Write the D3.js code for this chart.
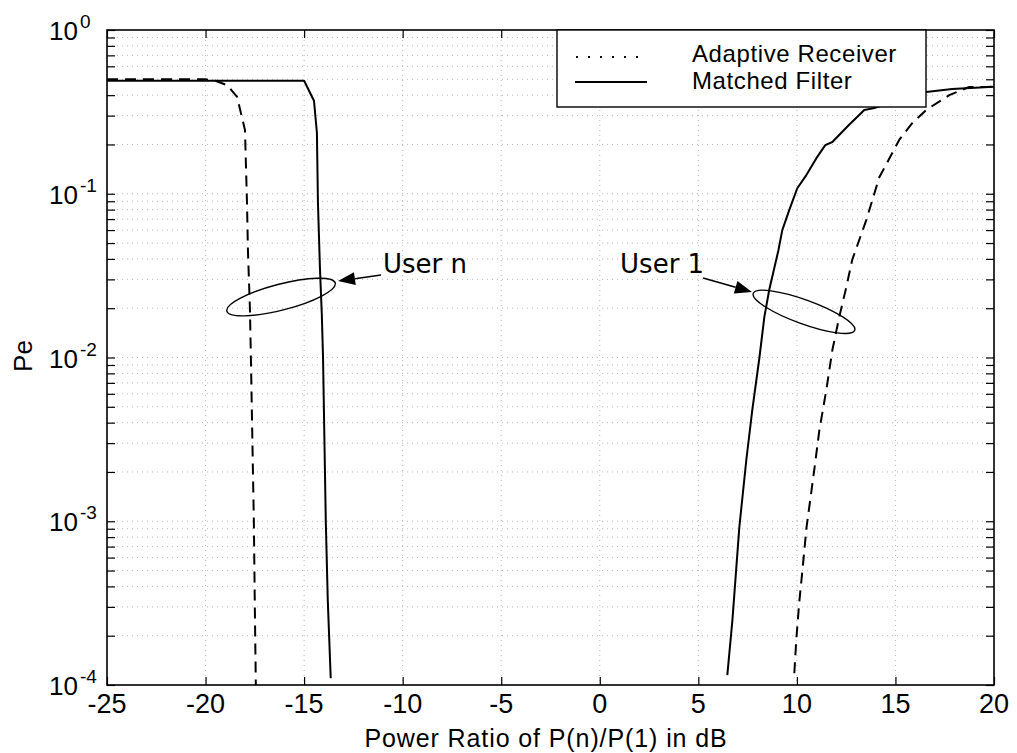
<!DOCTYPE html>
<html>
<head>
<meta charset="utf-8">
<script src="https://cdn.jsdelivr.net/npm/d3@7/dist/d3.min.js"></script>
<style>
  html, body { margin: 0; padding: 0; background: #fff; }
  svg { display: block; }
  text { font-family: "Liberation Sans", Arial, Helvetica, sans-serif; fill: #000; }
  .anno { font-family: "DejaVu Sans", "Noto Sans", sans-serif; }
</style>
</head>
<body>
<svg id="chart" width="1017" height="753"></svg>
<script>
// ---------------- data ----------------
const xTicks = [-25, -20, -15, -10, -5, 0, 5, 10, 15, 20];
const yDecades = [1, 0.1, 0.01, 0.001, 0.0001];
const yExponents = ["0", "-1", "-2", "-3", "-4"];

// User n, matched filter (solid)
const userNMatchedX = [-25, -15.0, -14.5, -14.35, -14.3, -14.2, -14.1, -14.04, -13.9, -13.8, -13.65];
const userNMatchedY = [0.49, 0.49, 0.37, 0.235, 0.09, 0.036, 0.018, 0.01, 0.001, 3.3e-4, 1.1e-4];

// User n, adaptive receiver (dashed)
const userNAdaptiveX = [-25, -20, -19.5, -18.9, -18.4, -18.0, -17.9, -17.85, -17.75, -17.7, -17.55, -17.5, -17.45];
const userNAdaptiveY = [0.5, 0.5, 0.49, 0.46, 0.39, 0.245, 0.09, 0.045, 0.02, 0.01, 0.001, 3e-4, 1e-4];

// User 1, matched filter (solid)
const user1MatchedX = [6.47, 6.73, 7.08, 7.44, 7.74, 8.10, 8.35, 8.60, 9.06, 9.26, 9.62, 10.02, 10.48, 10.99, 11.44, 11.80, 12.6, 13.42, 13.93, 15.2, 16.56, 17.88, 19.75, 20];
const user1MatchedY = [1.15e-4, 2.5e-4, 9.2e-4, 2.4e-3, 4.8e-3, 0.01, 0.0177, 0.026, 0.045, 0.06, 0.08, 0.108, 0.13, 0.165, 0.198, 0.207, 0.26, 0.325, 0.334, 0.374, 0.418, 0.436, 0.449, 0.45];

// User 1, adaptive receiver (dashed)
const user1AdaptiveX = [9.87, 9.97, 10.12, 10.28, 10.49, 10.88, 11.14, 11.49, 11.80, 12.15, 12.51, 12.81, 13.52, 14.18, 15.19, 15.85, 16.56, 17.73, 18.74, 19.6, 20];
const user1AdaptiveY = [1.18e-4, 1.9e-4, 3.2e-4, 5.0e-4, 9.2e-4, 2.05e-3, 3.6e-3, 6.3e-3, 0.0111, 0.0177, 0.027, 0.0396, 0.069, 0.126, 0.213, 0.27, 0.325, 0.40, 0.449, 0.449, 0.45];

const legendLabels = ["Adaptive Receiver", "Matched Filter"];
const xTitle = "Power Ratio of P(n)/P(1) in dB";
const yTitle = "Pe";

// annotation anchors, in data units
const annoLabels = ["User n", "User 1"];
const annoTextX = [-11.0, 1.03];
const annoTextY = [0.0328, 0.0328];
const annoArrowFromX = [-11.1, 5.24];
const annoArrowFromY = [0.0319, 0.0306];
const annoArrowToX = [-13.28, 7.72];
const annoArrowToY = [0.0293, 0.0251];
const annoEllipseX = [-16.17, 10.36];
const annoEllipseY = [0.0234, 0.019];

// ---------------- layout ----------------
const L = 107, R = 994, T = 30, B = 685;
const svg = d3.select("#chart");
const x = d3.scaleLinear().domain([-25, 20]).range([L, R]);
const y = d3.scaleLog().domain([1e-4, 1]).range([B, T]);

svg.append("rect").attr("width", 1017).attr("height", 753).attr("fill", "#fff");

// minor values
const minorVals = [];
for (let d = 1e-4; d < 0.99; d *= 10) {
  for (let k = 2; k <= 9; k++) minorVals.push(k * d);
}

// grid
const grid = svg.append("g").attr("stroke", "#b8b8b8").attr("stroke-width", 1).attr("stroke-dasharray", "1,4");
grid.selectAll(".gx").data(xTicks.slice(1, -1)).enter().append("line")
  .attr("x1", d => x(d)).attr("x2", d => x(d)).attr("y1", T).attr("y2", B);
grid.selectAll(".gy").data(minorVals.concat(yDecades.slice(1, -1))).enter().append("line")
  .attr("x1", L).attr("x2", R).attr("y1", d => y(d)).attr("y2", d => y(d));

// axes (ticks inward)
const tk = 8;
const xAxisB = d3.axisBottom(x).tickValues(xTicks).tickSize(-tk).tickFormat("");
const xAxisT = d3.axisTop(x).tickValues(xTicks).tickSize(-tk).tickFormat("");
const yAxisL = d3.axisLeft(y).tickValues(yDecades.concat(minorVals)).tickSize(-tk).tickFormat("");
const yAxisR = d3.axisRight(y).tickValues(yDecades.concat(minorVals)).tickSize(-tk).tickFormat("");
function styleAxis(g) {
  g.select(".domain").remove();
  g.selectAll("line").attr("stroke", "#000").attr("stroke-width", 1.2);
}
svg.append("g").attr("transform", `translate(0,${B})`).call(xAxisB).call(styleAxis);
svg.append("g").attr("transform", `translate(0,${T})`).call(xAxisT).call(styleAxis);
svg.append("g").attr("transform", `translate(${L},0)`).call(yAxisL).call(styleAxis);
svg.append("g").attr("transform", `translate(${R},0)`).call(yAxisR).call(styleAxis);

// frame
svg.append("rect").attr("x", L).attr("y", T).attr("width", R - L).attr("height", B - T)
  .attr("fill", "none").attr("stroke", "#000").attr("stroke-width", 1.6);

// x tick labels
svg.append("g").selectAll("text").data(xTicks).enter().append("text")
  .attr("x", d => x(d)).attr("y", B + 28).attr("text-anchor", "middle")
  .attr("font-size", 27).text(d => d);

// y tick labels 10^n
const yl = svg.append("g");
yDecades.forEach((d, i) => {
  yl.append("text").attr("x", 78).attr("y", y(d) + 10)
    .attr("text-anchor", "end").attr("font-size", 26).text("10");
  yl.append("text").attr("x", 80).attr("y", y(d) - 2)
    .attr("font-size", 19).text(yExponents[i]);
});

// axis titles
svg.append("text").attr("x", 546).attr("y", 747).attr("text-anchor", "middle")
  .attr("font-size", 25).attr("letter-spacing", 0.9).text(xTitle);
svg.append("text").attr("transform", "translate(32,356) rotate(-90)").attr("text-anchor", "middle")
  .attr("font-size", 26).text(yTitle);

// curves
svg.append("clipPath").attr("id", "pc").append("rect")
  .attr("x", L).attr("y", T).attr("width", R - L).attr("height", B - T);
const line = d3.line().x(d => x(d[0])).y(d => y(d[1]));
const zip = (a, b) => a.map((v, i) => [v, b[i]]);
const curves = svg.append("g").attr("clip-path", "url(#pc)").attr("fill", "none")
  .attr("stroke", "#000").attr("stroke-width", 2).attr("stroke-linejoin", "round");
curves.append("path").attr("d", line(zip(userNMatchedX, userNMatchedY)));
curves.append("path").attr("d", line(zip(user1MatchedX, user1MatchedY)));
curves.append("path").attr("d", line(zip(userNAdaptiveX, userNAdaptiveY))).attr("stroke-dasharray", "11,7");
curves.append("path").attr("d", line(zip(user1AdaptiveX, user1AdaptiveY))).attr("stroke-dasharray", "11,7");

// legend
const lg = svg.append("g");
lg.append("rect").attr("x", 557).attr("y", T).attr("width", 369).attr("height", 77)
  .attr("fill", "#fff").attr("stroke", "#000").attr("stroke-width", 1.4);
lg.append("line").attr("x1", 576).attr("x2", 648).attr("y1", 57).attr("y2", 57)
  .attr("stroke", "#000").attr("stroke-width", 2).attr("stroke-dasharray", "2,10");
lg.append("line").attr("x1", 575).attr("x2", 647).attr("y1", 82).attr("y2", 82)
  .attr("stroke", "#000").attr("stroke-width", 2);
lg.append("text").attr("x", 692).attr("y", 62).attr("font-size", 24).attr("letter-spacing", 0.6).text(legendLabels[0]);
lg.append("text").attr("x", 692).attr("y", 89).attr("font-size", 24).attr("letter-spacing", 0.6).text(legendLabels[1]);

// annotations
const an = svg.append("g");
const ellRx = [56, 54], ellRy = [13, 12], ellRot = [-14.5, 20];
annoLabels.forEach((lab, i) => {
  an.append("text").attr("class", "anno").attr("x", x(annoTextX[i])).attr("y", y(annoTextY[i]))
    .attr("font-size", 26).text(lab);
  const x0 = x(annoArrowFromX[i]), y0 = y(annoArrowFromY[i]);
  const x1 = x(annoArrowToX[i]), y1 = y(annoArrowToY[i]);
  const ang = Math.atan2(y1 - y0, x1 - x0);
  const hl = 17, hw = 6.5;
  const bx = x1 - hl * Math.cos(ang), by = y1 - hl * Math.sin(ang);
  an.append("line").attr("x1", x0).attr("y1", y0).attr("x2", bx).attr("y2", by)
    .attr("stroke", "#000").attr("stroke-width", 1.6);
  an.append("path").attr("d", `M${x1},${y1}L${bx + hw * Math.sin(ang)},${by - hw * Math.cos(ang)}L${bx - hw * Math.sin(ang)},${by + hw * Math.cos(ang)}Z`)
    .attr("fill", "#000");
  an.append("ellipse").attr("cx", 0).attr("cy", 0).attr("rx", ellRx[i]).attr("ry", ellRy[i])
    .attr("transform", `translate(${x(annoEllipseX[i])},${y(annoEllipseY[i])}) rotate(${ellRot[i]})`)
    .attr("fill", "none").attr("stroke", "#000").attr("stroke-width", 1.4);
});
</script>
</body>
</html>
